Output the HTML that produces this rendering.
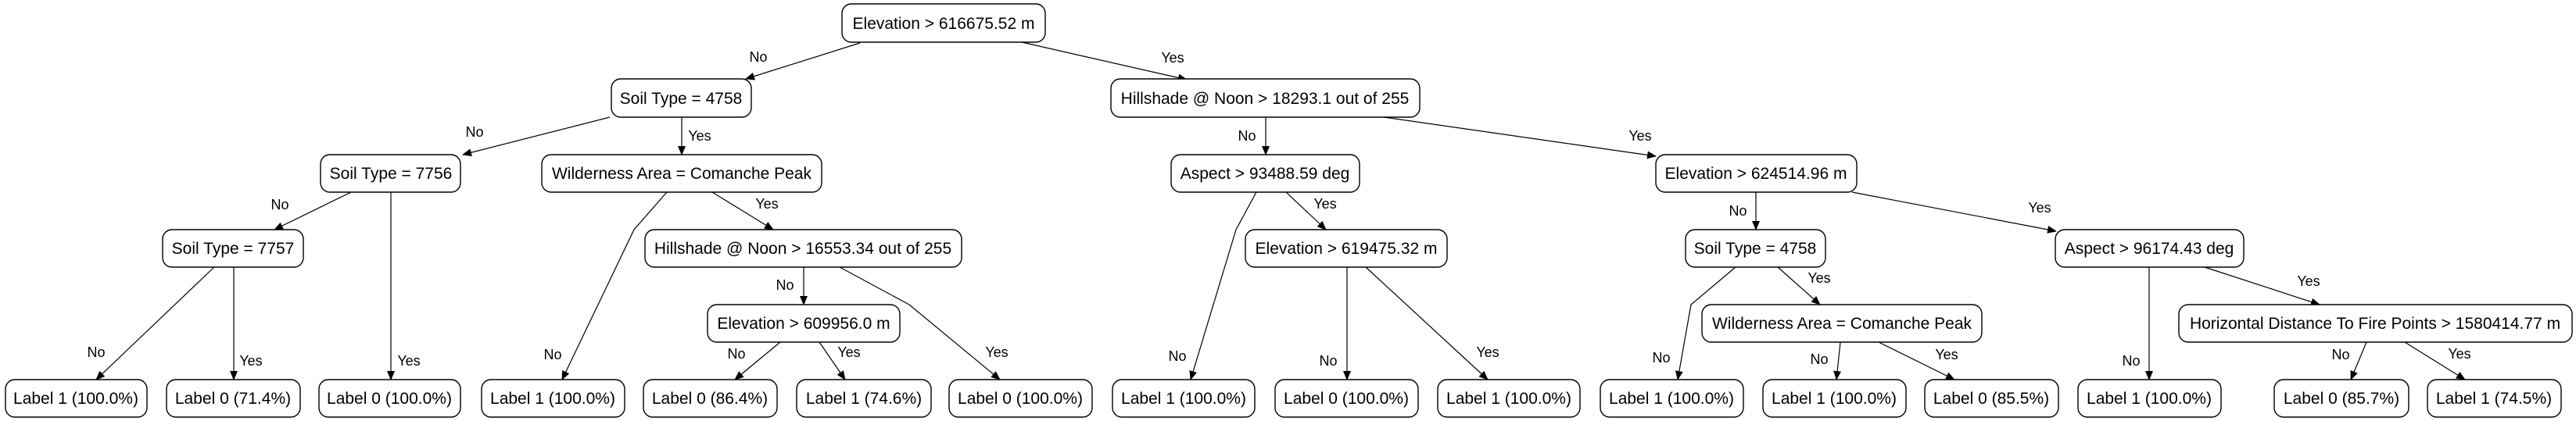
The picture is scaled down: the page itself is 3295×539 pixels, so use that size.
<!DOCTYPE html>
<html><head><meta charset="utf-8"><style>
html,body{margin:0;padding:0;background:#fff;}
svg{display:block;}
.b{fill:#fff;stroke:#000;stroke-width:1.4;}
.t{font-family:"Liberation Sans",Arial,sans-serif;font-size:21px;text-anchor:middle;fill:#000;}
.l{font-family:"Liberation Sans",Arial,sans-serif;font-size:18px;text-anchor:middle;fill:#000;}
.e{fill:none;stroke:#000;stroke-width:1.2;}
</style></head><body>
<svg width="3295" height="539" viewBox="0 0 3295 539" xmlns="http://www.w3.org/2000/svg">
<defs><marker id="a" markerWidth="12" markerHeight="10" refX="11" refY="5" orient="auto" markerUnits="userSpaceOnUse"><path d="M0,0 L12,5 L0,10 z" fill="#000"/></marker></defs>
<g id="edges">
<polyline class="e" marker-end="url(#a)" points="1100,55 954,101"/>
<polyline class="e" marker-end="url(#a)" points="1307,54 1518,102"/>
<polyline class="e" marker-end="url(#a)" points="780,150 592,198"/>
<polyline class="e" marker-end="url(#a)" points="872,150 872,198"/>
<polyline class="e" marker-end="url(#a)" points="449,246 351,294"/>
<polyline class="e" marker-end="url(#a)" points="500,246 500,486"/>
<polyline class="e" marker-end="url(#a)" points="274,342 123,486"/>
<polyline class="e" marker-end="url(#a)" points="299,342 299,486"/>
<polyline class="e" marker-end="url(#a)" points="853,246 811,294 719,486"/>
<polyline class="e" marker-end="url(#a)" points="911,246 989,294"/>
<polyline class="e" marker-end="url(#a)" points="1028,342 1028,390"/>
<polyline class="e" marker-end="url(#a)" points="1074,342 1163,390 1279,486"/>
<polyline class="e" marker-end="url(#a)" points="998,438 940,486"/>
<polyline class="e" marker-end="url(#a)" points="1048,438 1081,486"/>
<polyline class="e" marker-end="url(#a)" points="1619,150 1619,198"/>
<polyline class="e" marker-end="url(#a)" points="1770,150 2118,200"/>
<polyline class="e" marker-end="url(#a)" points="1607,246 1581,294 1523,486"/>
<polyline class="e" marker-end="url(#a)" points="1645,246 1696,294"/>
<polyline class="e" marker-end="url(#a)" points="1723,342 1723,486"/>
<polyline class="e" marker-end="url(#a)" points="1747,342 1903,486"/>
<polyline class="e" marker-end="url(#a)" points="2246,246 2246,294"/>
<polyline class="e" marker-end="url(#a)" points="2369,246 2630,296"/>
<polyline class="e" marker-end="url(#a)" points="2220,342 2163,390 2146,486"/>
<polyline class="e" marker-end="url(#a)" points="2274,342 2328,390"/>
<polyline class="e" marker-end="url(#a)" points="2354,438 2349,486"/>
<polyline class="e" marker-end="url(#a)" points="2403,438 2500,486"/>
<polyline class="e" marker-end="url(#a)" points="2749,342 2749,486"/>
<polyline class="e" marker-end="url(#a)" points="2820,342 2967,390"/>
<polyline class="e" marker-end="url(#a)" points="3027,438 3007,486"/>
<polyline class="e" marker-end="url(#a)" points="3076,438 3153,486"/>
</g>
<g id="elabels">
<text class="l" x="970" y="79">No</text>
<text class="l" x="1500" y="80">Yes</text>
<text class="l" x="607" y="175">No</text>
<text class="l" x="895" y="180">Yes</text>
<text class="l" x="358" y="268">No</text>
<text class="l" x="523" y="468">Yes</text>
<text class="l" x="123" y="457">No</text>
<text class="l" x="321" y="468">Yes</text>
<text class="l" x="707" y="460">No</text>
<text class="l" x="981" y="267">Yes</text>
<text class="l" x="1004" y="371">No</text>
<text class="l" x="1275" y="457">Yes</text>
<text class="l" x="942" y="459">No</text>
<text class="l" x="1086" y="457">Yes</text>
<text class="l" x="1595" y="180">No</text>
<text class="l" x="2098" y="180">Yes</text>
<text class="l" x="1506" y="462">No</text>
<text class="l" x="1695" y="267">Yes</text>
<text class="l" x="1699" y="468">No</text>
<text class="l" x="1903" y="457">Yes</text>
<text class="l" x="2223" y="276">No</text>
<text class="l" x="2609" y="272">Yes</text>
<text class="l" x="2125" y="464">No</text>
<text class="l" x="2327" y="362">Yes</text>
<text class="l" x="2327" y="466">No</text>
<text class="l" x="2490" y="460">Yes</text>
<text class="l" x="2726" y="468">No</text>
<text class="l" x="2953" y="366">Yes</text>
<text class="l" x="2994" y="460">No</text>
<text class="l" x="3146" y="459">Yes</text>
</g>
<g id="nodes">
<rect class="b" x="1077" y="5" width="260" height="49" rx="12"/><text class="t" x="1207" y="37">Elevation &gt; 616675.52 m</text>
<rect class="b" x="782" y="101" width="179" height="49" rx="12"/><text class="t" x="871" y="133">Soil Type = 4758</text>
<rect class="b" x="1421" y="101" width="395" height="49" rx="12"/><text class="t" x="1618" y="133">Hillshade @ Noon &gt; 18293.1 out of 255</text>
<rect class="b" x="410" y="198" width="179" height="48" rx="12"/><text class="t" x="500" y="229">Soil Type = 7756</text>
<rect class="b" x="693" y="198" width="358" height="48" rx="12"/><text class="t" x="872" y="229">Wilderness Area = Comanche Peak</text>
<rect class="b" x="1498" y="198" width="241" height="48" rx="12"/><text class="t" x="1618" y="229">Aspect &gt; 93488.59 deg</text>
<rect class="b" x="2118" y="198" width="257" height="48" rx="12"/><text class="t" x="2246" y="229">Elevation &gt; 624514.96 m</text>
<rect class="b" x="208" y="294" width="180" height="48" rx="12"/><text class="t" x="298" y="325">Soil Type = 7757</text>
<rect class="b" x="825" y="294" width="405" height="48" rx="12"/><text class="t" x="1027" y="325">Hillshade @ Noon &gt; 16553.34 out of 255</text>
<rect class="b" x="1593" y="294" width="258" height="48" rx="12"/><text class="t" x="1722" y="325">Elevation &gt; 619475.32 m</text>
<rect class="b" x="2156" y="294" width="179" height="48" rx="12"/><text class="t" x="2245" y="325">Soil Type = 4758</text>
<rect class="b" x="2629" y="294" width="241" height="48" rx="12"/><text class="t" x="2749" y="325">Aspect &gt; 96174.43 deg</text>
<rect class="b" x="905" y="390" width="246" height="48" rx="12"/><text class="t" x="1028" y="421">Elevation &gt; 609956.0 m</text>
<rect class="b" x="2177" y="390" width="358" height="48" rx="12"/><text class="t" x="2356" y="421">Wilderness Area = Comanche Peak</text>
<rect class="b" x="2787" y="390" width="503" height="48" rx="12"/><text class="t" x="3038" y="421">Horizontal Distance To Fire Points &gt; 1580414.77 m</text>
<rect class="b" x="7" y="486" width="181" height="48" rx="12"/><text class="t" x="97" y="517">Label 1 (100.0%)</text>
<rect class="b" x="213" y="486" width="171" height="48" rx="12"/><text class="t" x="298" y="517">Label 0 (71.4%)</text>
<rect class="b" x="408" y="486" width="181" height="48" rx="12"/><text class="t" x="498" y="517">Label 0 (100.0%)</text>
<rect class="b" x="616" y="486" width="183" height="48" rx="12"/><text class="t" x="707" y="517">Label 1 (100.0%)</text>
<rect class="b" x="823" y="486" width="171" height="48" rx="12"/><text class="t" x="908" y="517">Label 0 (86.4%)</text>
<rect class="b" x="1019" y="486" width="172" height="48" rx="12"/><text class="t" x="1105" y="517">Label 1 (74.6%)</text>
<rect class="b" x="1214" y="486" width="183" height="48" rx="12"/><text class="t" x="1305" y="517">Label 0 (100.0%)</text>
<rect class="b" x="1423" y="486" width="182" height="48" rx="12"/><text class="t" x="1514" y="517">Label 1 (100.0%)</text>
<rect class="b" x="1631" y="486" width="183" height="48" rx="12"/><text class="t" x="1722" y="517">Label 0 (100.0%)</text>
<rect class="b" x="1839" y="486" width="182" height="48" rx="12"/><text class="t" x="1930" y="517">Label 1 (100.0%)</text>
<rect class="b" x="2047" y="486" width="183" height="48" rx="12"/><text class="t" x="2138" y="517">Label 1 (100.0%)</text>
<rect class="b" x="2255" y="486" width="183" height="48" rx="12"/><text class="t" x="2346" y="517">Label 1 (100.0%)</text>
<rect class="b" x="2462" y="486" width="171" height="48" rx="12"/><text class="t" x="2547" y="517">Label 0 (85.5%)</text>
<rect class="b" x="2658" y="486" width="183" height="48" rx="12"/><text class="t" x="2749" y="517">Label 1 (100.0%)</text>
<rect class="b" x="2909" y="486" width="172" height="48" rx="12"/><text class="t" x="2995" y="517">Label 0 (85.7%)</text>
<rect class="b" x="3105" y="486" width="171" height="48" rx="12"/><text class="t" x="3190" y="517">Label 1 (74.5%)</text>
</g>
</svg>
</body></html>
